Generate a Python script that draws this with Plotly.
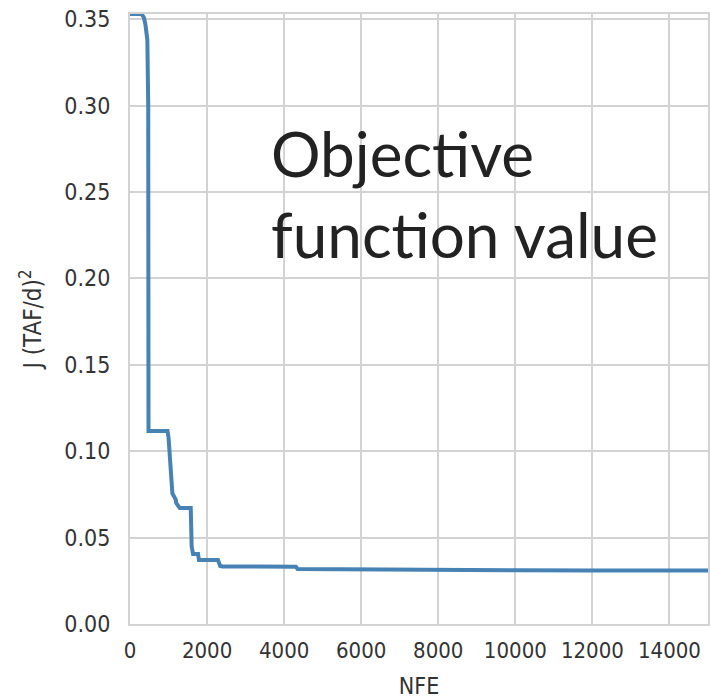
import plotly.graph_objects as go

nfe = [0, 300, 360, 400, 450, 473, 480, 973, 1000, 1075, 1100, 1190, 1200, 1292, 1576, 1600, 1636, 1766, 1790,
       2283, 2340, 2400, 3000, 4307, 4350, 5000, 6375, 6450, 8000, 10000, 12000, 15000]
j_val = [0.353, 0.353, 0.351, 0.347, 0.338, 0.300, 0.1117, 0.1117, 0.1080, 0.0756, 0.0756, 0.0718, 0.0700, 0.0671, 0.0671,
         0.0450, 0.0405, 0.0405, 0.0370, 0.0370, 0.0336, 0.0333, 0.0333, 0.0332, 0.0318, 0.0317, 0.0316, 0.0312, 0.0312,
         0.0311, 0.0310, 0.0310]

x_ticks = [0, 2000, 4000, 6000, 8000, 10000, 12000, 14000]
y_ticks = [0.00, 0.05, 0.10, 0.15, 0.20, 0.25, 0.30, 0.35]

cond = "DejaVu Sans Condensed, Roboto, sans-serif"

fig = go.Figure()
fig.add_trace(go.Scatter(x=nfe, y=j_val, mode="lines",
                         line=dict(color="#4682b4", width=4), showlegend=False))

fig.update_layout(
    width=710, height=699,
    margin=dict(l=130, r=0, t=14, b=75),
    paper_bgcolor="white", plot_bgcolor="white",
    xaxis=dict(range=[0, 15000], tickvals=x_ticks, ticktext=[str(v) for v in x_ticks],
               showgrid=True, gridcolor="#d3d3d3", gridwidth=2,
               showline=True, linecolor="#d3d3d3", linewidth=2, mirror=True,
               zeroline=False, ticks="", ticklabelstandoff=6,
               tickfont=dict(family=cond, size=22, color="#333333"),
               title=dict(text="NFE", font=dict(family=cond, size=23, color="#333333"), standoff=15)),
    yaxis=dict(range=[0, 0.353], tickvals=y_ticks, ticktext=["%.2f" % v for v in y_ticks],
               showgrid=True, gridcolor="#d3d3d3", gridwidth=2,
               showline=True, linecolor="#d3d3d3", linewidth=2, mirror=True,
               zeroline=False, ticks="", ticklabelstandoff=13,
               tickfont=dict(family=cond, size=23, color="#333333"),
               title=dict(text="J (TAF/d)<sup>2</sup>", font=dict(family=cond, size=24, color="#333333"), standoff=16)),
)

fig.add_annotation(x=0.24, y=0.705, xref="paper", yref="paper", xanchor="left", yanchor="middle",
                   text="Objective<br>function value", align="left", showarrow=False,
                   font=dict(family="Lato, sans-serif", size=62, color="#222222"))

fig.write_html("out.html")
